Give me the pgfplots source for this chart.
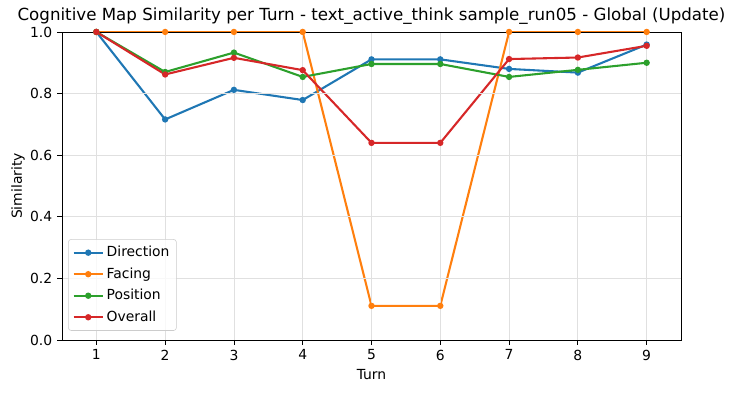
\documentclass[border=0pt]{standalone}
\usepackage{pgfplots}
\pgfplotsset{compat=1.18}
\usepackage{fontspec}
\setmainfont{DejaVu Sans}
\definecolor{tabblue}{HTML}{1F77B4}
\definecolor{taborange}{HTML}{FF7F0E}
\definecolor{tabgreen}{HTML}{2CA02C}
\definecolor{tabred}{HTML}{D62728}
\begin{document}
\begin{tikzpicture}
\begin{axis}[
  scale only axis,
  width=445.7pt, height=221.8pt,
  xmin=0.5, xmax=9.5, ymin=0, ymax=1,
  xtick={1,...,9},
  ytick={0,0.2,0.4,0.6,0.8,1.0},
  yticklabel style={/pgf/number format/.cd, fixed, fixed zerofill, precision=1},
  /pgf/number format/assume math mode=true,
  tick align=outside, tick pos=left,
  major tick length=3.5pt,
  grid=major,
  grid style={line width=0.6pt, draw=black!12},
  axis line style={line width=0.6pt},
  axis on top,
  tick style={line width=0.6pt, black},
  ticklabel style={font=\fontsize{10}{12}\selectfont},
  xlabel={Turn}, ylabel={Similarity},
  ylabel shift=-3pt,
  label style={font=\fontsize{10}{12}\selectfont},
  title={Cognitive Map Similarity per Turn - text\_active\_think sample\_run05 - Global (Update)},
  title style={font=\fontsize{12}{14}\selectfont, yshift=-4pt},
  every axis plot/.append style={line width=1.5pt, mark=*, mark size=1.5pt},
  legend cell align=left,
  legend style={font=\fontsize{10}{12}\selectfont, draw=black!20, rounded corners=2pt, fill=white, fill opacity=0.8, text opacity=1, at={(0.01,0.03)}, anchor=south west, inner xsep=3pt, inner ysep=3pt, row sep=2.4pt},
  legend image code/.code={\draw[mark repeat=2,mark phase=2] plot coordinates {(0cm,0cm) (0.37cm,0cm) (0.74cm,0cm)};},
]
\addplot[color=tabblue] coordinates {(1,1.0) (2,0.716) (3,0.812) (4,0.779) (5,0.911) (6,0.911) (7,0.880) (8,0.868) (9,0.959)};
\addlegendentry{Direction}
\addplot[color=taborange] coordinates {(1,1.0) (2,1.0) (3,1.0) (4,1.0) (5,0.111) (6,0.111) (7,1.0) (8,1.0) (9,1.0)};
\addlegendentry{Facing}
\addplot[color=tabgreen] coordinates {(1,1.0) (2,0.870) (3,0.933) (4,0.854) (5,0.896) (6,0.896) (7,0.854) (8,0.877) (9,0.900)};
\addlegendentry{Position}
\addplot[color=tabred] coordinates {(1,1.0) (2,0.862) (3,0.916) (4,0.876) (5,0.640) (6,0.640) (7,0.912) (8,0.917) (9,0.955)};
\addlegendentry{Overall}
\fill[white] (axis cs:0.5,1) rectangle ([yshift=-1.1pt]axis cs:9.5,1);
\end{axis}
\path[use as bounding box] ([xshift=-44.6pt, yshift=-38.2pt]current axis.south west) rectangle ([xshift=37.4pt, yshift=23pt]current axis.north east);
\end{tikzpicture}
\end{document}
